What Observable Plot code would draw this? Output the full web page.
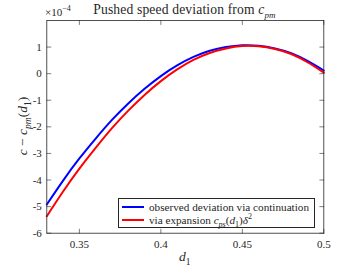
<!DOCTYPE html>
<html><head><meta charset="utf-8">
<script src="https://cdn.jsdelivr.net/npm/d3@7"></script>
<script src="https://cdn.jsdelivr.net/npm/@observablehq/plot@0.6"></script>
<style>
body{margin:0;background:#fff;}
#wrap{position:relative;width:357px;height:268px;font-family:"Liberation Serif","DejaVu Serif",serif;color:#262626;}
.abs{position:absolute;white-space:nowrap;line-height:1;}
sub,sup{line-height:0;}
#legend{position:absolute;left:118px;top:198px;width:195px;height:28px;border:0.8px solid #262626;background:#fff;font-size:11.2px;}
.row{position:absolute;left:0;height:13px;display:flex;align-items:center;white-space:nowrap;}
.swatch{display:inline-block;width:22px;height:0;border-top:2px solid;margin-left:3px;margin-right:5px;}
</style></head><body><div id="wrap"></div>
<script>
// data (values in units of 1e-4)
const d1 = [0.33,0.34,0.35,0.36,0.37,0.38,0.39,0.40,0.41,0.42,0.43,0.44,0.45,0.46,0.47,0.48,0.49,0.50];
const observed = [-4.92,-4.02,-3.19,-2.44,-1.74,-1.12,-0.57,-0.09,0.31,0.63,0.86,1.00,1.07,1.05,0.95,0.77,0.48,0.12];
const expansion = [-5.36,-4.43,-3.57,-2.79,-2.05,-1.39,-0.80,-0.28,0.16,0.52,0.78,0.95,1.04,1.03,0.93,0.74,0.43,0.04];
const xTicks = [0.35,0.4,0.45,0.5];
const yTicks = [-6,-5,-4,-3,-2,-1,0,1];
const xDomain = [0.33,0.5];
const yDomain = [-6,2];
const yExponent = -4;
const seriesNames = ["observed deviation via continuation","via expansion"];

const rowsObs = d1.map((d,i)=>({d, v: observed[i]}));
const rowsExp = d1.map((d,i)=>({d, v: expansion[i]}));
const ink = "#262626";
const tickShape = {draw(ctx, l){ctx.moveTo(0,0); ctx.lineTo(0,-l);}};
const tl = 4;

const chart = Plot.plot({
  width: 357, height: 268,
  marginLeft: 46.3, marginRight: 33.7, marginTop: 20, marginBottom: 35.3,
  style: {fontFamily: '"Liberation Serif","DejaVu Serif",serif', fontSize: "11px", color: ink, background: "white"},
  x: {domain: xDomain},
  y: {domain: yDomain},
  marks: [
    Plot.line(rowsObs, {x: "d", y: "v", stroke: "#0000ff", strokeWidth: 2, curve: "natural"}),
    Plot.line(rowsExp, {x: "d", y: "v", stroke: "#ff0000", strokeWidth: 2, curve: "natural"}),
    Plot.vector(xTicks, {x: d=>d, y: () => yDomain[0], length: tl, rotate: 0, anchor: "start", shape: tickShape, stroke: ink, strokeWidth: 0.6}),
    Plot.vector(xTicks, {x: d=>d, y: () => yDomain[1], length: tl, rotate: 180, anchor: "start", shape: tickShape, stroke: ink, strokeWidth: 0.6}),
    Plot.vector(yTicks, {y: d=>d, x: () => xDomain[0], length: tl, rotate: 90, anchor: "start", shape: tickShape, stroke: ink, strokeWidth: 0.6}),
    Plot.vector(yTicks, {y: d=>d, x: () => xDomain[1], length: tl, rotate: 270, anchor: "start", shape: tickShape, stroke: ink, strokeWidth: 0.6}),
    Plot.axisX({ticks: xTicks, tickSize: 0, tickPadding: 7, tickFormat: d=>String(d), label: null, fill: ink}),
    Plot.axisY({ticks: yTicks, tickSize: 0, tickPadding: 5, tickFormat: d=> d<0 ? "-"+Math.abs(d) : String(d), label: null, fill: ink}),
    Plot.frame({stroke: ink, strokeWidth: 0.8})
  ]
});
const wrap = document.getElementById("wrap");
wrap.appendChild(chart);

function add(html, style){ const e=document.createElement("div"); e.className="abs"; e.innerHTML=html; Object.assign(e.style, style); wrap.appendChild(e); return e; }
add('Pushed speed deviation from <i>c</i><sub style="font-size:9px;font-style:italic">pm</sub>', {left:"46px", width:"277px", textAlign:"center", top:"3px", fontSize:"13.6px", letterSpacing:"0.15px"});
add('&times;10<sup style="font-size:8px">&minus;' + Math.abs(yExponent) + '</sup>', {left:"45px", top:"7px", fontSize:"11px"});
const yl = add('<i>c</i> &minus; <i>c</i><sub style="font-size:9.5px;font-style:italic">pm</sub>(<i>d</i><sub style="font-size:9.5px">1</sub>)', {left:"23px", top:"126px", fontSize:"13.5px"});
yl.style.transform = "translate(-50%,-50%) rotate(-90deg)";
add('<i>d</i><sub style="font-size:9.5px">1</sub>', {left:"179px", top:"250px", fontSize:"13.5px"});

const lg = document.createElement("div"); lg.id="legend"; wrap.appendChild(lg);
lg.innerHTML = `<div class="row" style="top:1px"><span class="swatch" style="border-color:#0000ff"></span><span>${seriesNames[0]}</span></div>
<div class="row" style="top:14px"><span class="swatch" style="border-color:#ff0000"></span><span>${seriesNames[1]}&nbsp;<i>c</i><sub style="font-size:8px;font-style:italic">ps</sub>(<i>d</i><sub style="font-size:8px">1</sub>)<i>&delta;</i><sup style="font-size:8px">2</sup></span></div>`;
</script></body></html>
